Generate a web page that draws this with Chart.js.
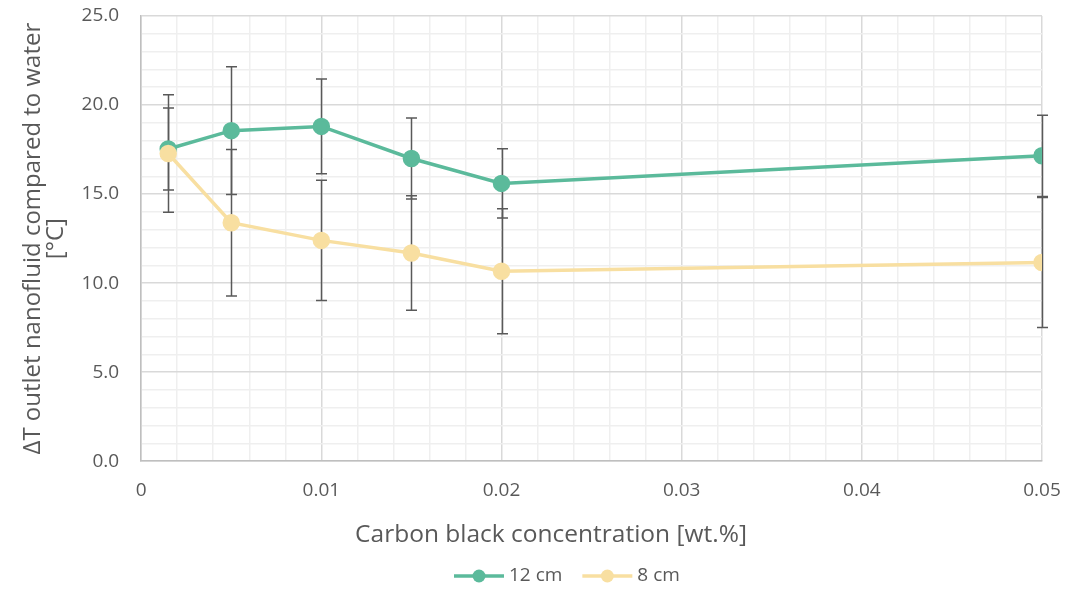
<!DOCTYPE html>
<html>
<head>
<meta charset="utf-8">
<script src="https://cdn.jsdelivr.net/npm/chart.js@4/dist/chart.umd.min.js"></script>
<style>
  html, body { margin: 0; padding: 0; background: #ffffff; }
  #wrap { width: 1067px; height: 591px; }
</style>
</head>
<body>
<div id="wrap"><canvas id="c" width="1067" height="591"></canvas></div>
<script>
// Carbon black concentration [wt.%]
const concentrations = [0.0015, 0.005, 0.01, 0.015, 0.02, 0.05];

// ΔT outlet nanofluid vs water [°C] and standard deviations
const dt12cm = [17.53, 18.56, 18.80, 17.00, 15.60, 17.15];
const err12cm = [2.30, 3.59, 2.66, 2.27, 1.94, 2.28];
const dt8cm = [17.28, 13.39, 12.40, 11.69, 10.67, 11.16];
const err8cm = [3.30, 4.12, 3.37, 3.21, 3.51, 3.65];

const seriesNames = ['12 cm', '8 cm'];
const xTickLabels = ['0', '0.01', '0.02', '0.03', '0.04', '0.05'];
const yTickLabels = ['0.0', '5.0', '10.0', '15.0', '20.0', '25.0'];
const xTitle = 'Carbon black concentration [wt.%]';
const yTitle = ['ΔT outlet nanofluid compared to water', '[°C]'];

const GREEN = '#5bba9b';
const YELLOW = '#f8dfa1';
const TEXT = '#595959';
const FONT = "'Open Sans', 'DejaVu Sans', sans-serif";

function points(xs, ys, es) {
  return xs.map((x, i) => ({ x: x, y: ys[i], err: es[i] }));
}

function isMultiple(v, step) {
  const r = v / step;
  return Math.abs(r - Math.round(r)) < 1e-6;
}

// vertical error bars with caps, placed via the chart scales
const errorBars = {
  id: 'errorBars',
  beforeDatasetsDraw(chart) {
    const ctx = chart.ctx;
    const xs = chart.scales.x, ys = chart.scales.y;
    ctx.save();
    ctx.strokeStyle = '#595959';
    ctx.lineWidth = 1.5;
    chart.data.datasets.forEach(ds => {
      ds.data.forEach(p => {
        const px = Math.round(xs.getPixelForValue(p.x)) + 0.5;
        const top = ys.getPixelForValue(p.y + p.err);
        const bot = ys.getPixelForValue(p.y - p.err);
        const cap = 5.5;
        ctx.beginPath();
        ctx.moveTo(px, top); ctx.lineTo(px, bot);
        ctx.moveTo(px - cap, top); ctx.lineTo(px + cap, top);
        ctx.moveTo(px - cap, bot); ctx.lineTo(px + cap, bot);
        ctx.stroke();
      });
    });
    ctx.restore();
  }
};

// x-axis title and the line+marker legend underneath the plot
const bottomLabels = {
  id: 'bottomLabels',
  afterDraw(chart) {
    const ctx = chart.ctx;
    ctx.save();
    ctx.fillStyle = TEXT;
    ctx.textBaseline = 'middle';
    ctx.textAlign = 'center';
    ctx.font = `24.5px ${FONT}`;
    ctx.fillText(xTitle, 551, 535);

    ctx.font = `19px ${FONT}`;
    ctx.textAlign = 'left';
    let x = 454;
    const y = 576;
    chart.data.datasets.forEach(ds => {
      const c = ds.borderColor;
      ctx.strokeStyle = c;
      ctx.lineWidth = 3.5;
      ctx.beginPath(); ctx.moveTo(x, y); ctx.lineTo(x + 50, y); ctx.stroke();
      ctx.fillStyle = c;
      ctx.beginPath(); ctx.arc(x + 25, y, 6.5, 0, Math.PI * 2); ctx.fill();
      ctx.fillStyle = TEXT;
      ctx.fillText(ds.label, x + 55, y);
      x += 55 + ctx.measureText(ds.label).width + 20;
    });
    ctx.restore();
  }
};

new Chart(document.getElementById('c'), {
  type: 'line',
  data: {
    datasets: [
      {
        label: seriesNames[0],
        data: points(concentrations, dt12cm, err12cm),
        borderColor: GREEN, backgroundColor: GREEN,
        pointBackgroundColor: GREEN, pointBorderColor: GREEN,
        borderWidth: 3.5, pointRadius: 7, pointHoverRadius: 7,
        tension: 0, order: 1
      },
      {
        label: seriesNames[1],
        data: points(concentrations, dt8cm, err8cm),
        borderColor: YELLOW, backgroundColor: YELLOW,
        pointBackgroundColor: YELLOW, pointBorderColor: YELLOW,
        borderWidth: 3.5, pointRadius: 7, pointHoverRadius: 7,
        tension: 0, order: 0
      }
    ]
  },
  options: {
    responsive: false,
    animation: false,
    layout: { padding: { left: 18, right: 25, top: 16, bottom: 87 } },
    plugins: {
      tooltip: { enabled: false },
      legend: { display: false }
    },
    scales: {
      x: {
        type: 'linear',
        min: 0, max: 0.05,
        afterBuildTicks(axis) {
          const t = [];
          for (let i = 0; i <= 25; i++) t.push({ value: i * 0.002 });
          axis.ticks = t;
        },
        grid: {
          drawTicks: true,
          tickLength: 16,
          tickColor: 'rgba(0,0,0,0)',
          color: c => isMultiple(c.tick.value, 0.01) ? '#d9d9d9' : '#efefef',
          lineWidth: 1.5
        },
        border: { display: true, color: '#bfbfbf', width: 1.5 },
        ticks: {
          autoSkip: false,
          maxRotation: 0,
          padding: 2,
          color: TEXT,
          font: { family: FONT, size: 19 },
          callback(v) {
            if (!isMultiple(v, 0.01)) return '';
            return xTickLabels[Math.round(v / 0.01)];
          }
        },
        title: { display: false }
      },
      y: {
        type: 'linear',
        min: 0, max: 25,
        afterBuildTicks(axis) {
          const t = [];
          for (let i = 0; i <= 25; i++) t.push({ value: i });
          axis.ticks = t;
        },
        grid: {
          drawTicks: true,
          tickLength: 20,
          tickColor: 'rgba(0,0,0,0)',
          color: c => isMultiple(c.tick.value, 5) ? '#d9d9d9' : '#efefef',
          lineWidth: 1.5
        },
        border: { display: true, color: '#bfbfbf', width: 1.5 },
        ticks: {
          autoSkip: false,
          padding: 2,
          color: TEXT,
          font: { family: FONT, size: 19 },
          callback(v) {
            if (!isMultiple(v, 5)) return '';
            return yTickLabels[Math.round(v / 5)];
          }
        },
        title: {
          display: true,
          text: yTitle,
          color: TEXT,
          font: { family: FONT, size: 24, lineHeight: 0.95 },
          padding: { top: 4, bottom: 12 }
        }
      }
    }
  },
  plugins: [errorBars, bottomLabels]
});
</script>
</body>
</html>
